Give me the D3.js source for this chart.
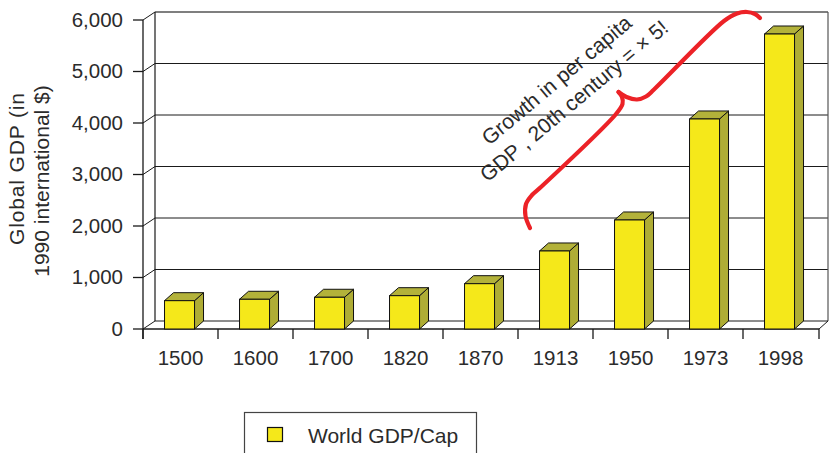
<!DOCTYPE html>
<html>
<head>
<meta charset="utf-8">
<script src="https://cdn.jsdelivr.net/npm/d3@7/dist/d3.min.js"></script>
<style>
  html, body { margin: 0; padding: 0; background: #fff; }
  svg { display: block; }
  text { font-family: "Liberation Sans", Arial, Helvetica, sans-serif; fill: #2b2b2b; }
</style>
</head>
<body>
<svg id="chart" width="834" height="453"></svg>
<script>
// ---- data ----
const categories = ["1500", "1600", "1700", "1820", "1870", "1913", "1950", "1973", "1998"];
const gdpPerCap = [550, 577, 616, 647, 880, 1515, 2117, 4078, 5728];
const yTicks = [0, 1000, 2000, 3000, 4000, 5000, 6000];
const seriesName = "World GDP/Cap";
const yTitleLines = ["Global GDP (in", "1990 international $)"];
const noteLines = ["Growth in per capita", "GDP , 20th century = \u00d7 5!"];

(function () {
// ---- layout ----
const svg = d3.select("#chart");
const x = d3.scaleBand().domain(categories).range([143, 818]).padding(0);
const y = d3.scaleLinear().domain([0, 6000]).range([329, 20]);
const depth = { dx: 12, dy: -8 };       // back wall offset
const barDepth = { dx: 9, dy: -8 };     // bar depth offset
const backRight = 828;
const fmt = d3.format(",");

const frontCol = "#f5e81a", sideCol = "#afad35", topCol = "#b3b23a";
const g = svg.append("g");

// back wall gridlines
g.selectAll("line.grid").data(yTicks.slice(1)).join("line")
  .attr("x1", x.range()[0] + depth.dx).attr("x2", backRight)
  .attr("y1", d => y(d) + depth.dy).attr("y2", d => y(d) + depth.dy)
  .attr("stroke", d => d === 6000 ? "#555" : "#1a1a1a").attr("stroke-width", d => d === 6000 ? 1.4 : 1);
// left wall diagonals
g.selectAll("line.diag").data(yTicks).join("line")
  .attr("x1", x.range()[0]).attr("x2", x.range()[0] + depth.dx)
  .attr("y1", d => y(d)).attr("y2", d => y(d) + depth.dy)
  .attr("stroke", "#1a1a1a").attr("stroke-width", 1);
// back wall verticals
[x.range()[0] + depth.dx, backRight].forEach((xx, i) => {
  g.append("line").attr("x1", xx).attr("x2", xx)
    .attr("y1", y(6000) + depth.dy).attr("y2", y(0) + depth.dy)
    .attr("stroke", i === 0 ? "#1a1a1a" : "#555").attr("stroke-width", 1.2);
});
// floor back line and right diagonal
g.append("line").attr("x1", x.range()[0] + depth.dx).attr("x2", backRight)
  .attr("y1", y(0) + depth.dy).attr("y2", y(0) + depth.dy).attr("stroke", "#1a1a1a");
g.append("line").attr("x1", x.range()[1] + 1).attr("x2", backRight)
  .attr("y1", y(0)).attr("y2", y(0) + depth.dy).attr("stroke", "#1a1a1a");

// front y axis
const axisG = svg.append("g");
axisG.append("line").attr("x1", x.range()[0]).attr("x2", x.range()[0])
  .attr("y1", y(6000)).attr("y2", y(0) + 10).attr("stroke", "#1a1a1a").attr("stroke-width", 1.3);
axisG.selectAll("line.yt").data(yTicks).join("line")
  .attr("x1", x.range()[0] - 10).attr("x2", x.range()[0])
  .attr("y1", d => y(d)).attr("y2", d => y(d))
  .attr("stroke", "#1a1a1a").attr("stroke-width", 1.3);
axisG.selectAll("text.yl").data(yTicks).join("text")
  .attr("x", 123).attr("y", d => y(d) + 6.5)
  .attr("text-anchor", "end").attr("font-size", 20.5)
  .text(d => fmt(d));

// front x axis
axisG.append("line").attr("x1", x.range()[0]).attr("x2", x.range()[1] + 1)
  .attr("y1", y(0)).attr("y2", y(0)).attr("stroke", "#1a1a1a").attr("stroke-width", 1.3);
const xTickPos = categories.map(c => x(c)).concat([x.range()[1] + 1]);
axisG.selectAll("line.xt").data(xTickPos).join("line")
  .attr("x1", d => d).attr("x2", d => d)
  .attr("y1", y(0)).attr("y2", y(0) + 10)
  .attr("stroke", "#1a1a1a").attr("stroke-width", 1.3);
axisG.selectAll("text.xl").data(categories).join("text")
  .attr("x", d => x(d) + x.bandwidth() / 2).attr("y", 365)
  .attr("text-anchor", "middle").attr("font-size", 20.5)
  .text(d => d);

// bars (3D)
const bw = x.bandwidth() * 0.4;
const bOff = x.bandwidth() * 0.287;
const bars = svg.append("g").selectAll("g.bar").data(categories.map((c, i) => ({ c, v: gdpPerCap[i] }))).join("g");
bars.each(function(d) {
  const gg = d3.select(this);
  const x0 = x(d.c) + bOff, x1 = x0 + bw, yt = y(d.v), yb = y(0);
  const dx = barDepth.dx, dy = barDepth.dy;
  gg.append("path")
    .attr("d", `M${x1},${yb}L${x1 + dx},${yb + dy}L${x1 + dx},${yt + dy}L${x1},${yt}Z`)
    .attr("fill", sideCol).attr("stroke", "#111").attr("stroke-width", 1).attr("stroke-linejoin", "round");
  gg.append("path")
    .attr("d", `M${x0},${yt}L${x0 + dx},${yt + dy}L${x1 + dx},${yt + dy}L${x1},${yt}Z`)
    .attr("fill", topCol).attr("stroke", "#111").attr("stroke-width", 1).attr("stroke-linejoin", "round");
  gg.append("rect")
    .attr("x", x0).attr("y", yt).attr("width", bw).attr("height", yb - yt)
    .attr("fill", frontCol).attr("stroke", "#111").attr("stroke-width", 1);
});

// y axis title
const yTitle = svg.append("g");
yTitle.append("text").attr("transform", "translate(24,169) rotate(-90)")
  .attr("text-anchor", "middle").attr("font-size", 21)
  .attr("textLength", 152).attr("lengthAdjust", "spacing").text(yTitleLines[0]);
yTitle.append("text").attr("transform", "translate(49,181) rotate(-90)")
  .attr("text-anchor", "middle").attr("font-size", 21).text(yTitleLines[1]);

// annotation text
const note = svg.append("g").attr("transform", "translate(570,96) rotate(-40)");
note.selectAll("text").data(noteLines).join("text")
  .attr("x", 0).attr("y", (d, i) => i === 0 ? -13.5 : 13.5)
  .attr("text-anchor", "middle").attr("font-size", 21).text(d => d);

// red curly brace annotation
const braceLeft = [[530, 228], [525.5, 216], [526, 204], [532, 195], [541, 187], [616, 114], [622.5, 104], [622, 97], [618.5, 92]];
const braceRight = [[618.5, 92], [626.5, 97], [637, 99.5], [646, 96.5], [654, 89.5], [724, 21], [737, 13.5], [747, 12], [755, 14], [760, 18]];
const braceLine = d3.line().curve(d3.curveCatmullRom.alpha(0.5));
[braceLeft, braceRight].forEach(pts => {
  svg.append("path").attr("d", braceLine(pts))
    .attr("fill", "none").attr("stroke", "#ec2227").attr("stroke-width", 4.2)
    .attr("stroke-linecap", "round").attr("stroke-linejoin", "round");
});

// legend
const leg = svg.append("g");
leg.append("rect").attr("x", 244.5).attr("y", 412.5).attr("width", 232).attr("height", 60)
  .attr("fill", "#fff").attr("stroke", "#444").attr("stroke-width", 1.2);
leg.append("rect").attr("x", 267.5).attr("y", 427.5).attr("width", 15).attr("height", 14)
  .attr("fill", frontCol).attr("stroke", "#111").attr("stroke-width", 1.2);
leg.append("text").attr("x", 308).attr("y", 443).attr("font-size", 21).text(seriesName);
})();
</script>
</body>
</html>
